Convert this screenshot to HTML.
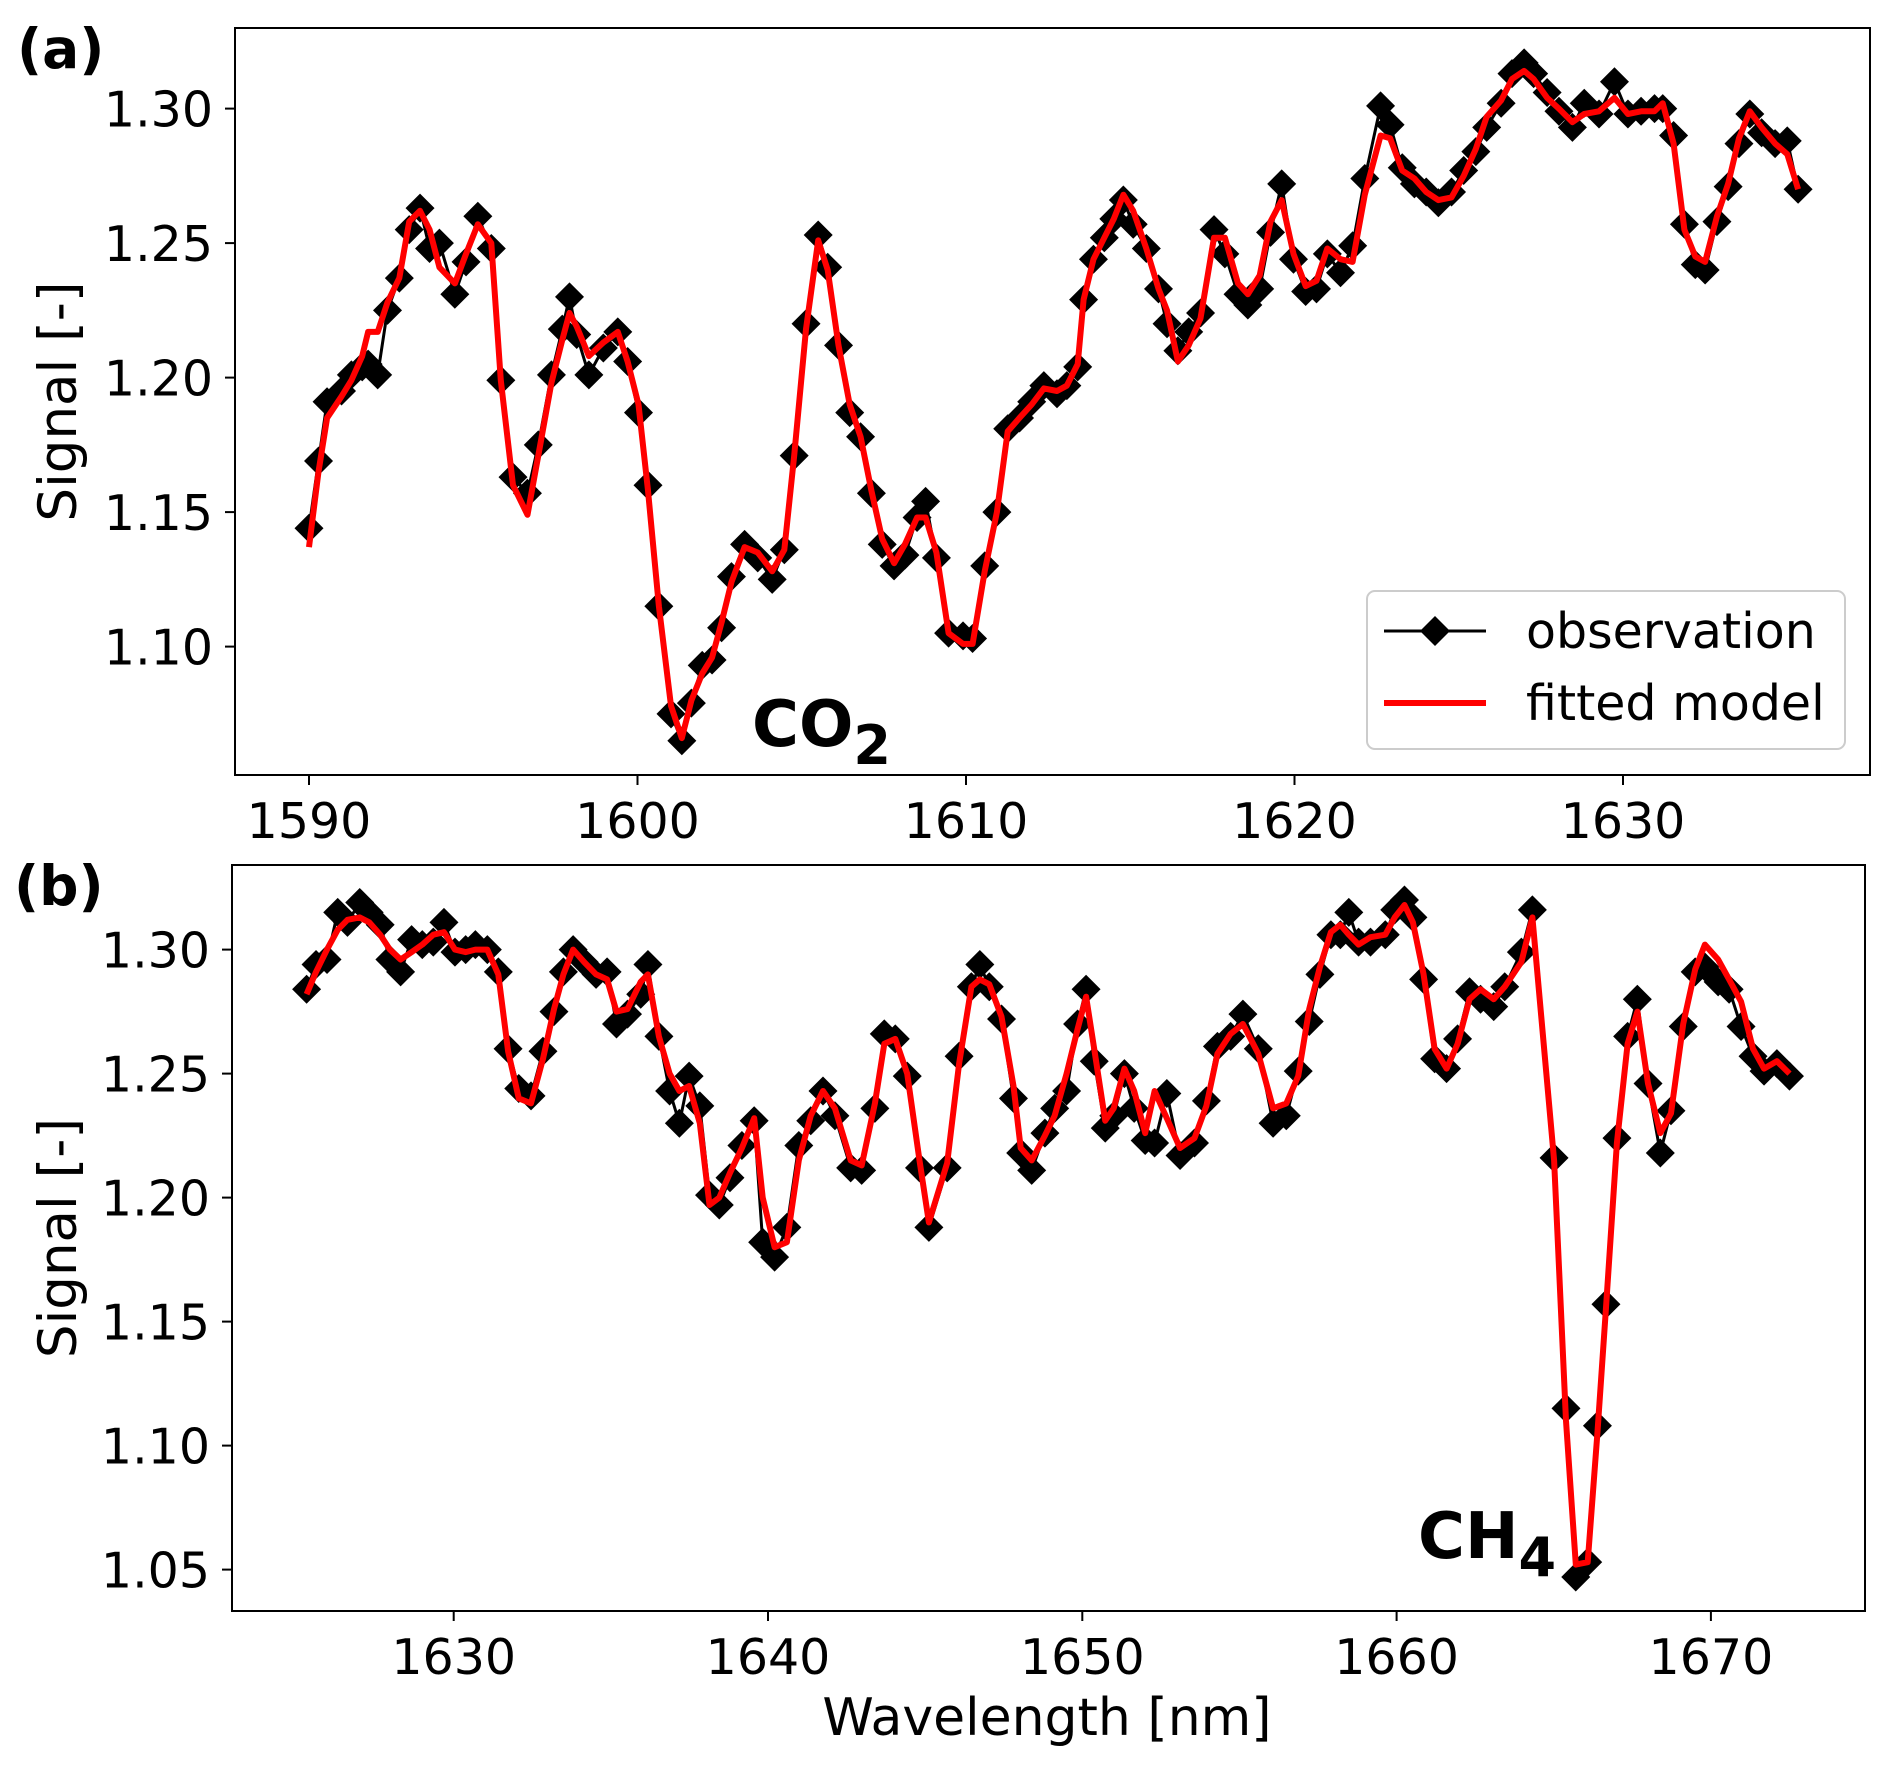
<!DOCTYPE html>
<html><head><meta charset="utf-8"><style>
html,body{margin:0;padding:0;background:#fff}
svg{display:block;font-family:"DejaVu Sans","Liberation Sans",sans-serif}
</style></head><body>
<svg id="fig" width="1892" height="1766" viewBox="0 0 1892 1766"></svg>
<script>
const wlA=[1590.00,1590.29,1590.55,1590.99,1591.29,1591.62,1591.80,1592.09,1592.39,1592.75,1593.05,1593.38,1593.67,1593.97,1594.44,1594.78,1595.14,1595.55,1595.84,1596.21,1596.65,1596.98,1597.38,1597.71,1597.93,1598.15,1598.52,1598.96,1599.40,1599.70,1600.03,1600.32,1600.65,1601.02,1601.35,1601.64,1601.97,1602.27,1602.56,1602.86,1603.26,1603.66,1604.10,1604.47,1604.77,1605.13,1605.50,1605.79,1606.12,1606.46,1606.79,1607.12,1607.45,1607.81,1608.14,1608.51,1608.77,1609.10,1609.47,1609.91,1610.20,1610.57,1610.94,1611.27,1611.63,1612.00,1612.37,1612.77,1613.07,1613.40,1613.58,1613.88,1614.21,1614.50,1614.79,1615.09,1615.49,1615.86,1616.12,1616.45,1616.78,1617.14,1617.55,1617.88,1618.28,1618.58,1618.94,1619.27,1619.61,1619.97,1620.34,1620.67,1621.00,1621.40,1621.77,1622.14,1622.62,1622.91,1623.28,1623.65,1624.01,1624.38,1624.78,1625.15,1625.52,1625.85,1626.29,1626.62,1626.99,1627.28,1627.69,1628.05,1628.46,1628.82,1629.27,1629.74,1630.15,1630.55,1630.96,1631.21,1631.54,1631.87,1632.20,1632.50,1632.86,1633.20,1633.53,1633.86,1634.22,1634.63,1635.00,1635.33];
const obsA=[1.144,1.169,1.191,1.195,1.201,1.204,1.205,1.201,1.225,1.237,1.255,1.263,1.248,1.250,1.231,1.243,1.260,1.248,1.199,1.163,1.157,1.175,1.201,1.218,1.230,1.216,1.201,1.211,1.217,1.206,1.187,1.160,1.115,1.075,1.065,1.079,1.093,1.095,1.107,1.126,1.138,1.133,1.125,1.136,1.171,1.220,1.253,1.241,1.212,1.187,1.178,1.157,1.138,1.130,1.134,1.148,1.154,1.133,1.105,1.104,1.103,1.130,1.150,1.181,1.185,1.191,1.197,1.194,1.197,1.204,1.229,1.244,1.252,1.259,1.266,1.257,1.248,1.233,1.220,1.210,1.217,1.224,1.255,1.246,1.231,1.227,1.233,1.254,1.272,1.244,1.232,1.233,1.246,1.239,1.249,1.274,1.301,1.294,1.278,1.272,1.269,1.265,1.269,1.277,1.284,1.293,1.302,1.313,1.317,1.313,1.306,1.299,1.293,1.302,1.298,1.310,1.298,1.299,1.300,1.300,1.290,1.257,1.242,1.240,1.258,1.271,1.287,1.298,1.291,1.287,1.288,1.270];
const modA=[1.137,1.165,1.185,1.193,1.199,1.208,1.217,1.217,1.228,1.237,1.258,1.262,1.255,1.241,1.235,1.246,1.257,1.250,1.199,1.160,1.149,1.171,1.198,1.214,1.224,1.219,1.208,1.213,1.217,1.206,1.190,1.158,1.115,1.078,1.066,1.080,1.090,1.096,1.109,1.124,1.137,1.135,1.128,1.136,1.171,1.218,1.251,1.240,1.212,1.190,1.178,1.158,1.140,1.131,1.138,1.148,1.148,1.135,1.105,1.101,1.101,1.128,1.150,1.180,1.185,1.190,1.196,1.195,1.197,1.205,1.229,1.244,1.252,1.259,1.268,1.262,1.248,1.233,1.225,1.206,1.212,1.222,1.252,1.252,1.235,1.231,1.238,1.258,1.266,1.246,1.234,1.236,1.248,1.244,1.243,1.268,1.290,1.289,1.277,1.274,1.269,1.266,1.267,1.275,1.285,1.297,1.303,1.311,1.314,1.311,1.304,1.300,1.295,1.298,1.299,1.304,1.298,1.299,1.299,1.302,1.287,1.255,1.245,1.243,1.260,1.272,1.289,1.299,1.293,1.287,1.283,1.270];
const wlB=[1625.32,1625.62,1625.97,1626.31,1626.62,1627.01,1627.31,1627.66,1627.97,1628.31,1628.66,1629.00,1629.35,1629.69,1630.04,1630.38,1630.69,1631.07,1631.42,1631.73,1632.07,1632.46,1632.84,1633.19,1633.49,1633.80,1634.15,1634.53,1634.88,1635.18,1635.53,1635.95,1636.18,1636.53,1636.87,1637.18,1637.49,1637.83,1638.14,1638.45,1638.79,1639.17,1639.56,1639.83,1640.21,1640.60,1640.98,1641.36,1641.75,1642.13,1642.63,1642.98,1643.40,1643.70,1644.05,1644.43,1644.82,1645.12,1645.70,1646.08,1646.47,1646.74,1647.04,1647.43,1647.81,1648.04,1648.39,1648.81,1649.12,1649.50,1649.85,1650.12,1650.38,1650.73,1651.00,1651.34,1651.65,1652.00,1652.30,1652.69,1653.11,1653.57,1653.95,1654.30,1654.72,1655.11,1655.60,1656.07,1656.49,1656.87,1657.22,1657.56,1657.91,1658.21,1658.48,1658.79,1659.17,1659.64,1659.94,1660.25,1660.52,1660.86,1661.21,1661.59,1661.94,1662.32,1662.67,1663.09,1663.44,1663.97,1664.32,1665.01,1665.39,1665.70,1666.08,1666.39,1666.66,1667.01,1667.35,1667.66,1668.00,1668.39,1668.73,1669.12,1669.50,1669.81,1670.23,1670.58,1670.96,1671.34,1671.69,1672.10,1672.50];
const obsB=[1.284,1.294,1.296,1.315,1.311,1.319,1.315,1.310,1.296,1.291,1.304,1.302,1.303,1.311,1.299,1.300,1.302,1.300,1.291,1.260,1.244,1.241,1.259,1.275,1.291,1.300,1.295,1.290,1.291,1.270,1.274,1.282,1.294,1.265,1.243,1.230,1.249,1.237,1.201,1.197,1.208,1.221,1.231,1.182,1.176,1.188,1.221,1.231,1.243,1.233,1.212,1.211,1.236,1.266,1.264,1.249,1.212,1.188,1.212,1.257,1.285,1.294,1.285,1.272,1.240,1.218,1.211,1.226,1.236,1.243,1.270,1.284,1.255,1.228,1.233,1.250,1.236,1.223,1.222,1.242,1.217,1.222,1.239,1.261,1.265,1.274,1.260,1.230,1.233,1.251,1.271,1.290,1.306,1.306,1.315,1.303,1.303,1.306,1.316,1.320,1.313,1.288,1.256,1.252,1.264,1.283,1.280,1.277,1.285,1.299,1.316,1.216,1.115,1.047,1.053,1.108,1.157,1.224,1.265,1.280,1.246,1.218,1.235,1.269,1.291,1.293,1.287,1.284,1.269,1.257,1.251,1.254,1.249];
const modB=[1.282,1.291,1.300,1.308,1.312,1.313,1.311,1.306,1.300,1.296,1.299,1.302,1.306,1.307,1.300,1.299,1.300,1.300,1.290,1.259,1.240,1.238,1.256,1.276,1.290,1.300,1.295,1.290,1.288,1.275,1.276,1.287,1.290,1.265,1.250,1.243,1.245,1.230,1.197,1.200,1.210,1.220,1.232,1.200,1.180,1.182,1.215,1.233,1.243,1.236,1.215,1.213,1.238,1.262,1.264,1.250,1.215,1.190,1.214,1.254,1.285,1.288,1.286,1.273,1.245,1.220,1.215,1.225,1.233,1.250,1.268,1.281,1.260,1.231,1.236,1.252,1.243,1.226,1.243,1.232,1.220,1.224,1.237,1.258,1.266,1.270,1.258,1.236,1.238,1.249,1.276,1.293,1.307,1.310,1.306,1.302,1.305,1.306,1.313,1.318,1.311,1.290,1.260,1.252,1.262,1.280,1.284,1.280,1.285,1.295,1.313,1.215,1.110,1.052,1.053,1.105,1.155,1.222,1.262,1.275,1.246,1.226,1.234,1.270,1.292,1.302,1.296,1.288,1.279,1.260,1.252,1.255,1.250];
const xticksA=[1590,1600,1610,1620,1630];
const yticksA=[1.10,1.15,1.20,1.25,1.30];
const xticksB=[1630,1640,1650,1660,1670];
const yticksB=[1.05,1.10,1.15,1.20,1.25,1.30];

const NS='http://www.w3.org/2000/svg';
const svg=document.getElementById('fig');
function mk(tag,attrs,parent){const e=document.createElementNS(NS,tag);for(const k in attrs)e.setAttribute(k,attrs[k]);(parent||svg).appendChild(e);return e;}

function panel(cfg){
  const g=mk('g',{});
  
  
  const X=v=>cfg.x0px+(v-cfg.x0v)*cfg.xs;
  const Y=v=>cfg.y0px-(v-cfg.y0v)*cfg.ys;
  cfg.xt.forEach(t=>{
    const l=mk('line',{x1:X(t),x2:X(t),y1:cfg.bot,y2:cfg.bot+10,stroke:'#000','stroke-width':2},g);
    
    
    const tx=mk('text',{x:X(t),y:cfg.bot+63,'font-size':49,'text-anchor':'middle'},g);
    tx.textContent=t;
    
    
  });
  cfg.yt.forEach(t=>{
    const l=mk('line',{x1:cfg.left-10,x2:cfg.left,y1:Y(t),y2:Y(t),stroke:'#000','stroke-width':2},g);
    
    
    const tx=mk('text',{x:cfg.left-22,y:Y(t)+18,'font-size':49,'text-anchor':'end'},g);
    tx.textContent=t.toFixed(2);
    
    
  });
  const po=cfg.wl.map((w,i)=>X(w).toFixed(1)+','+Y(cfg.obs[i]).toFixed(1)).join(' ');
  const ol=mk('polyline',{points:po,fill:'none',stroke:'#000','stroke-width':3},g);
  
  
  cfg.wl.forEach((w,i)=>{
    const x=X(w),y=Y(cfg.obs[i]),r=14.5;
    const d=mk('polygon',{points:`${x},${y-r} ${x+r},${y} ${x},${y+r} ${x-r},${y}`,fill:'#000'},g);
    
    
  });
  const pm=cfg.wl.map((w,i)=>X(w).toFixed(1)+','+Y(cfg.mod[i]).toFixed(1)).join(' ');
  const ml=mk('polyline',{points:pm,fill:'none',stroke:'#ff0000','stroke-width':6,'stroke-linejoin':'round'},g);
  
  
  const fr=mk('rect',{x:cfg.left,y:cfg.top,width:cfg.right-cfg.left,height:cfg.bot-cfg.top,fill:'none',stroke:'#000','stroke-width':2},g);
  
  
  const yl=mk('text',{x:0,y:0,'font-size':53,'text-anchor':'middle',transform:`translate(${cfg.ylx},${(cfg.top+cfg.bot)/2}) rotate(-90)`},g);
  yl.textContent='Signal [-]';
  
  
  return g;
}

panel({name:'panel-a',left:235,right:1870,top:28,bot:775,x0px:309,x0v:1590,xs:32.85,y0px:108.6,y0v:1.30,ys:2690,xt:xticksA,yt:yticksA,wl:wlA,obs:obsA,mod:modA,ylx:76});
panel({name:'panel-b',left:232,right:1865,top:865,bot:1611,x0px:453.7,x0v:1630,xs:31.43,y0px:949.6,y0v:1.30,ys:2480,xt:xticksB,yt:yticksB,wl:wlB,obs:obsB,mod:modB,ylx:76});
</script>
<svg style="position:absolute;left:0;top:0" width="1892" height="1766">
<text x="17" y="68" font-size="55" font-weight="bold" font-family="DejaVu Sans,sans-serif">(a)</text>
<text x="14" y="905" font-size="55" font-weight="bold" font-family="DejaVu Sans,sans-serif">(b)</text>
<text x="752" y="746" font-size="64" font-weight="bold" font-family="DejaVu Sans,sans-serif">CO<tspan font-size="54" dy="18">2</tspan></text>
<text x="1418" y="1558" font-size="64" font-weight="bold" font-family="DejaVu Sans,sans-serif">CH<tspan font-size="54" dy="18">4</tspan></text>
<text x="1047" y="1735" font-size="52" text-anchor="middle" font-family="DejaVu Sans,sans-serif">Wavelength [nm]</text>
<g>
<rect x="1367" y="591" width="478" height="158" rx="8" fill="#fff" stroke="#ccc" stroke-width="2"/>
<line x1="1384" y1="631" x2="1486" y2="631" stroke="#000" stroke-width="3"/>
<polygon points="1435,616 1450,631 1435,646 1420,631" fill="#000"/>
<text x="1526" y="648" font-size="49" font-family="DejaVu Sans,sans-serif">observation</text>
<line x1="1384" y1="703" x2="1486" y2="703" stroke="#ff0000" stroke-width="6"/>
<text x="1526" y="720" font-size="49" font-family="DejaVu Sans,sans-serif">fitted model</text>
</g>
</svg>
</body></html>
